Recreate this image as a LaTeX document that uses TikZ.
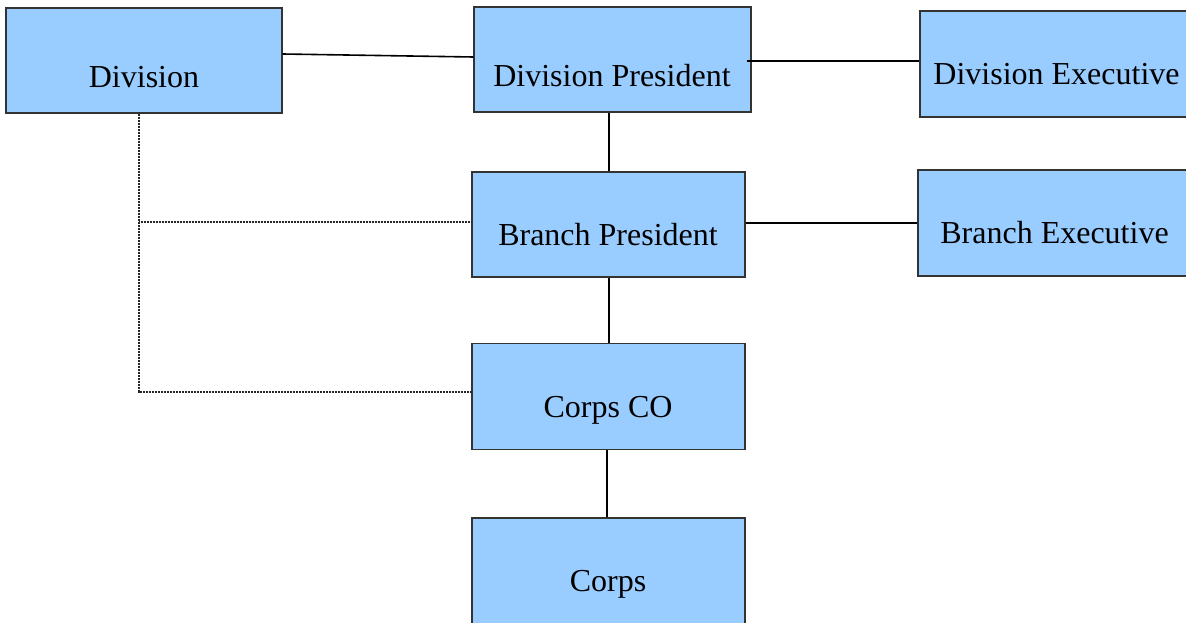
\documentclass[tikz,border=0pt]{standalone}
\usepackage{fontspec}
\setmainfont{Liberation Serif}
\definecolor{boxfill}{HTML}{99CCFF}
\definecolor{boxline}{HTML}{333333}
\begin{document}
\begin{tikzpicture}[x=1pt,y=-1pt,
  box/.style={draw=boxline, line width=1.3pt, fill=boxfill, rectangle, inner sep=0pt, minimum width=276pt, minimum height=105pt},
  txt/.style={anchor=base, inner sep=0pt, font=\fontsize{32}{38}\selectfont},
  link/.style={draw=black, line width=1.6pt},
  dotlink/.style={draw=black!85, line width=2pt, dash pattern=on 1pt off 0.5pt}]
\useasboundingbox (0,0) rectangle (1186,623);
\clip (0,0) rectangle (1186,623);
% boxes
\node[box] (div) at (144,60.5) {};
\node[box, minimum width=277pt] (divpres) at (612.5,59.5) {};
\node[box, minimum height=106pt] (divexec) at (1058,64) {};
\node[box, minimum width=273pt] (brpres) at (608.5,224.5) {};
\node[box, minimum height=106pt] (brexec) at (1056,223) {};
\node[box, minimum width=273pt, minimum height=106pt] (corpsco) at (608.5,396.5) {};
\node[box, minimum width=273pt, minimum height=108pt] (corps) at (608.5,572) {};
% texts
\node[txt] (divT) at (144,88) {Division};
\node[txt] (divpresT) at (612,87) {Division President};
\node[txt] (divexecT) at (1056.5,85) {Division Executive};
\node[txt] (brpresT) at (608,245) {Branch President};
\node[txt] (brexecT) at (1054.5,243) {Branch Executive};
\node[txt] (corpscoT) at (608,417) {Corps CO};
\node[txt] (corpsT) at (608,591) {Corps};
% solid connectors
\draw[link] (div.east |- 0,54) -- (divpres.west |- 0,57);
\draw[link] ([xshift=-5pt]divpres.east |- 0,61) -- (divexec.west |- 0,61);
\draw[link] (divpres.south -| 609,0) -- (brpres.north -| 609,0);
\draw[link] (brpres.east |- 0,223) -- (brexec.west |- 0,223);
\draw[link] (brpres.south -| 609,0) -- (corpsco.north -| 609,0);
\draw[link] (corpsco.south -| 607,0) -- (corps.north -| 607,0);
% dotted connectors
\coordinate (jb) at (139,222);
\coordinate (jc) at (139,392);
\draw[dotlink] (div.south -| jc) -- (jc) -- (corpsco.west |- jc);
\draw[dotlink] (jb) -- (brpres.west |- jb);
\end{tikzpicture}
\end{document}
